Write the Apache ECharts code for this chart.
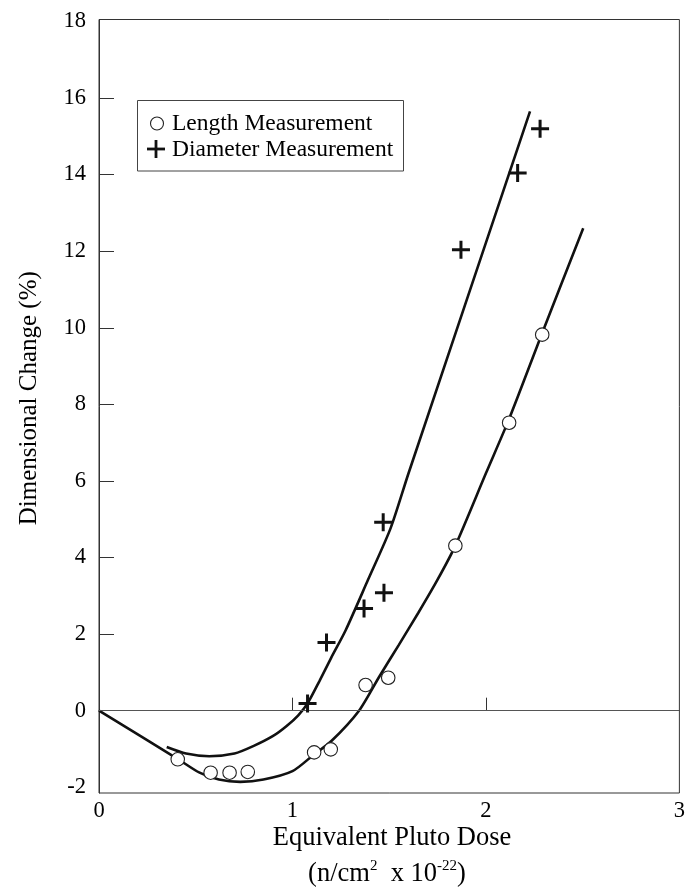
<!DOCTYPE html>
<html><head><meta charset="utf-8">
<script src="https://cdn.jsdelivr.net/npm/echarts@6/dist/echarts.min.js"></script>
<style>html,body{margin:0;padding:0;background:#fff}#c{width:688px;height:890px}</style>
</head><body><div id="c"></div>
<script>
// Measured points
const lengthX = [0.407, 0.577, 0.675, 0.769, 1.112, 1.198, 1.378, 1.495, 1.842, 2.12, 2.291];
const lengthY = [-1.27, -1.62, -1.62, -1.60, -1.09, -1.01, 0.67, 0.86, 4.31, 7.52, 9.82];
const diamX = [1.078, 1.176, 1.370, 1.473, 1.469, 1.871, 2.164, 2.28];
const diamY = [0.19, 1.78, 2.67, 3.08, 4.92, 12.04, 14.04, 15.2];
// Fitted curves
const diamCurveX = [0.35, 0.45, 0.57, 0.70, 0.80, 0.90, 0.97, 1.03, 1.078, 1.14, 1.20, 1.275, 1.39, 1.507, 1.60, 2.228];
const diamCurveY = [-0.95, -1.12, -1.19, -1.12, -0.92, -0.66, -0.40, -0.12, 0.19, 0.78, 1.38, 2.10, 3.41, 4.76, 6.2, 15.65];
const lenCurveX = [0, 0.41, 0.52, 0.62, 0.73, 0.85, 1.0, 1.11, 1.2, 1.344, 1.45, 1.55, 1.65, 1.75, 1.842, 2.0, 2.12, 2.29, 2.503];
const lenCurveY = [0, -1.27, -1.62, -1.80, -1.86, -1.80, -1.58, -1.15, -0.80, 0.0, 0.90, 1.72, 2.55, 3.42, 4.31, 6.2, 7.62, 9.85, 12.6];
const yLabels = [-2, 0, 2, 4, 6, 8, 10, 12, 14, 16, 18];
const yTicks = [2, 4, 6, 8, 10, 12, 14, 16];
const xLabels = [0, 1, 2, 3];
const xTicks = [1, 2];
const seriesNames = ['Length Measurement', 'Diameter Measurement'];

const zip = (xs, ys) => xs.map((x, i) => [x, ys[i]]);
const FONT = 'Liberation Serif';
const INK = '#111';

const chart = echarts.init(document.getElementById('c'), null, {renderer: 'canvas'});
chart.setOption({
  backgroundColor: '#fff',
  animation: false,
  grid: {left: 99, right: 6, top: 19.5, bottom: 97, show: true, borderColor: '#333', borderWidth: 1},
  xAxis: {
    type: 'value', min: 0, max: 3, interval: 1,
    axisLine: {show: true, lineStyle: {color: '#333', width: 1}},
    axisTick: {show: true, inside: true, length: 13, customValues: xTicks, lineStyle: {color: '#333'}},
    axisLabel: {customValues: xLabels, fontFamily: FONT, fontSize: 22.5, color: '#000', margin: 7},
    splitLine: {show: false}
  },
  yAxis: {
    type: 'value', min: -2.15, max: 18.05,
    name: 'Dimensional Change (%)', nameLocation: 'middle', nameGap: 57, nameRotate: 90,
    nameTextStyle: {fontFamily: FONT, fontSize: 25, color: '#000', padding: [0, 0, 0, 16]},
    axisLine: {show: true, lineStyle: {color: '#333', width: 1}},
    axisTick: {show: true, inside: true, length: 15, customValues: yTicks, lineStyle: {color: '#333'}},
    axisLabel: {customValues: yLabels, fontFamily: FONT, fontSize: 22.5, color: '#000', margin: 13},
    splitLine: {show: false}
  },
  series: [
    {type: 'line', name: 'lenCurve', data: zip(lenCurveX, lenCurveY), smooth: 0.25, showSymbol: false,
     lineStyle: {color: INK, width: 2.6}, z: 2,
     markLine: {silent: true, symbol: ['none', 'none'], label: {show: false},
       lineStyle: {color: '#555', width: 1, type: 'solid'}, data: [{yAxis: 0}]}},
    {type: 'line', name: 'diamCurve', data: zip(diamCurveX, diamCurveY), smooth: 0.25, showSymbol: false,
     lineStyle: {color: INK, width: 2.6}, z: 2},
    {type: 'scatter', name: seriesNames[0], data: zip(lengthX, lengthY), symbol: 'circle', symbolSize: 13.5,
     itemStyle: {color: '#fff', borderColor: '#222', borderWidth: 1.1, opacity: 1}, z: 5},
    {type: 'scatter', name: seriesNames[1], data: zip(diamX, diamY),
     symbol: 'path://M0,-10 L0,10 M-10,0 L10,0', symbolSize: 18,
     itemStyle: {color: 'none', borderColor: '#111', borderWidth: 3, opacity: 1}, z: 5}
  ],
  graphic: [
    {type: 'rect', shape: {x: 137.5, y: 100.5, width: 266, height: 70.5}, style: {fill: '#fff', stroke: '#444', lineWidth: 1}, z: 10},
    {type: 'circle', shape: {cx: 157, cy: 123.5, r: 6.5}, style: {fill: '#fff', stroke: '#222', lineWidth: 1.1}, z: 11},
    {type: 'line', shape: {x1: 147, y1: 149, x2: 165, y2: 149}, style: {stroke: '#111', lineWidth: 2.8}, z: 11},
    {type: 'line', shape: {x1: 156, y1: 140, x2: 156, y2: 158}, style: {stroke: '#111', lineWidth: 2.8}, z: 11},
    {type: 'text', x: 172, y: 124, style: {text: seriesNames[0], font: '23.5px "Liberation Serif"', fill: '#000', verticalAlign: 'middle'}, z: 11},
    {type: 'text', x: 172, y: 150, style: {text: seriesNames[1], font: '23.5px "Liberation Serif"', fill: '#000', verticalAlign: 'middle'}, z: 11},
    {type: 'text', x: 392, y: 838, style: {text: 'Equivalent Pluto Dose', font: '26.5px "Liberation Serif"', fill: '#000', align: 'center', verticalAlign: 'middle'}},
    {type: 'text', x: 387, y: 873, style: {
      text: '{a|(n/cm}{s|2}{a|  x 10}{s|-22}{a|)}', align: 'center', verticalAlign: 'middle',
      rich: {
        a: {fontFamily: FONT, fontSize: 26.5, fill: '#000', lineHeight: 29, verticalAlign: 'bottom'},
        s: {fontFamily: FONT, fontSize: 15, fill: '#000', lineHeight: 29, verticalAlign: 'top'}
      }}}
  ]
});
</script>
</body></html>
